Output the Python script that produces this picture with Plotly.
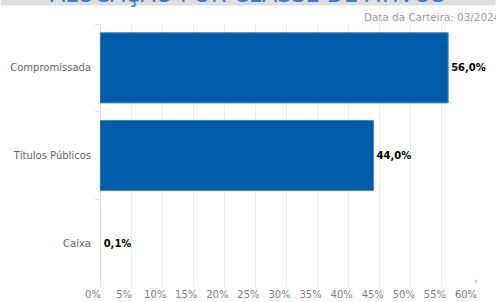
import plotly.graph_objects as go

categories = ["Compromissada", "Títulos Públicos", "Caixa"]
values = [56.0, 44.0, 0.1]
value_labels = ["56,0%", "44,0%", "0,1%"]
tick_vals = [0, 5, 10, 15, 20, 25, 30, 35, 40, 45, 50, 55, 60]
tick_text = ["0%", "5%", "10%", "15%", "20%", "25%", "30%", "35%", "40%", "45%", "50%", "55%", "60%"]
title_text = "ALOCAÇÃO POR CLASSE DE ATIVOS"
date_text = "Data da Carteira: 03/2024"

W, H = 496, 302
ml, mr, mt, mb = 99.5, 22.7, 24, 15
pw = W - ml - mr
ph = H - mt - mb

def px_x(p):
    return (p - ml) / pw

def px_y(p):
    return (H - mb - p) / ph

fig = go.Figure(go.Bar(
    y=categories, x=values, orientation="h",
    text=value_labels, textposition="outside", cliponaxis=False,
    textfont=dict(family="DejaVu Sans", size=10, color="#000000", weight="bold"),
    marker=dict(color=["#005ca9", "#005ca9", "rgba(0,92,169,0.08)"],
                line=dict(color="#3f86c8", width=[1, 1, 0])),
    width=0.8,
    hoverinfo="skip",
))

fig.update_layout(
    width=W, height=H,
    margin=dict(l=ml, r=mr, t=mt, b=mb, autoexpand=False),
    paper_bgcolor="white", plot_bgcolor="white",
    showlegend=False,
    font=dict(family="DejaVu Sans", size=10, color="#666666"),
    xaxis=dict(
        range=[0, 60], tickvals=tick_vals, ticktext=tick_text,
        showgrid=True, gridcolor="#ececf0", gridwidth=1,
        zeroline=True, zerolinecolor="#e2e2ea", zerolinewidth=1,
        showline=False, ticks="", ticklabelshift=-7,
        tickfont=dict(size=10, color="#7f7f7f"),
        fixedrange=True,
    ),
    yaxis=dict(
        autorange="reversed", tickson="boundaries",
        ticks="outside", ticklen=4, tickcolor="#dde0ea",
        showgrid=False, showline=False, zeroline=False,
        tickfont=dict(size=10, color="#666666"),
        ticklabelstandoff=8,
    ),
    shapes=[dict(
        type="rect", xref="paper", yref="paper",
        x0=px_x(0), x1=px_x(W), y0=px_y(5.5), y1=px_y(-40),
        fillcolor="#dedede", line=dict(width=0), layer="below",
    )],
    annotations=[
        dict(text=title_text, xref="paper", yref="paper",
             x=px_x(247), y=px_y(9), xanchor="center", yanchor="bottom",
             showarrow=False, font=dict(family="DejaVu Sans", size=22.3, color="#3a7cc5")),
        dict(text=date_text, xref="paper", yref="paper",
             x=px_x(362), y=px_y(17), xanchor="left", yanchor="middle",
             showarrow=False, font=dict(family="DejaVu Sans", size=10.4, color="#9a9a9a")),
        dict(text="Y", xref="paper", yref="paper",
             x=px_x(476), y=px_y(281), xanchor="center", yanchor="middle",
             showarrow=False, font=dict(family="DejaVu Sans", size=6, color="#aaaaaa")),
    ],
)

fig.write_html("out.html", config={"displayModeBar": False},
               post_script="document.body.style.margin='0';")
